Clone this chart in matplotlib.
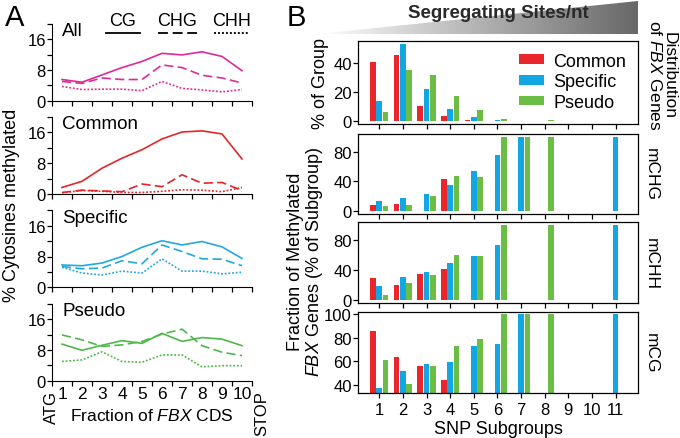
import numpy as np
import matplotlib
matplotlib.use('Agg')
import matplotlib.pyplot as plt
from matplotlib.lines import Line2D
from matplotlib.patches import Polygon
from matplotlib.colors import LinearSegmentedColormap
from matplotlib.transforms import blended_transform_factory

plt.rcParams['font.family'] = ['Liberation Sans', 'DejaVu Sans']
plt.rcParams['mathtext.fontset'] = 'custom'
plt.rcParams['mathtext.rm'] = 'Liberation Sans'
plt.rcParams['mathtext.it'] = 'Liberation Sans:italic'

# ---- Panel A data: % cytosines methylated along FBX CDS (10 bins)
bins = np.arange(1, 11)
all_cg = [5.5, 4.8, 6.7, 8.6, 10.2, 12.3, 11.9, 12.7, 11.5, 7.8]
all_chg = [5.0, 4.5, 5.9, 5.5, 5.5, 9.3, 8.6, 6.6, 5.9, 4.6]
all_chh = [3.7, 2.9, 3.0, 3.0, 2.6, 5.0, 3.2, 2.8, 2.3, 2.9]
common_cg = [1.7, 3.3, 6.7, 9.3, 11.5, 14.3, 16.1, 16.4, 15.6, 9.1]
common_chg = [0.4, 1.0, 0.8, 0.6, 2.6, 1.9, 5.0, 2.8, 3.0, 0.9]
common_chh = [0.3, 0.9, 0.7, 0.4, 0.4, 0.7, 1.1, 1.0, 0.6, 1.7]
specific_cg = [5.8, 5.6, 6.3, 8.0, 10.4, 12.1, 11.0, 11.9, 10.5, 7.5]
specific_chg = [5.4, 4.8, 5.0, 6.9, 6.1, 11.0, 9.3, 7.4, 7.3, 5.6]
specific_chh = [5.2, 3.7, 3.2, 4.2, 3.7, 7.4, 4.2, 4.2, 3.5, 3.9]
pseudo_cg = [9.5, 7.9, 9.2, 10.4, 9.7, 12.3, 10.2, 11.2, 10.8, 9.1]
pseudo_chg = [11.9, 10.6, 8.9, 9.3, 10.2, 12.1, 13.4, 9.1, 7.4, 6.5]
pseudo_chh = [5.0, 5.4, 7.5, 5.0, 4.8, 6.7, 6.7, 3.6, 3.9, 3.9]

group_names = ['All', 'Common', 'Specific', 'Pseudo']
group_colors = ['#DD2A98', '#E4262B', '#22A8E0', '#4DB848']

# ---- Panel B data: SNP subgroups 1..11
subgroups = np.arange(1, 12)
nan = np.nan
dist_common = [40.5, 45.5, 10.7, 3.4, 0.5, 0, 0, 0, 0, 0, 0]
dist_specific = [13.5, 53.0, 21.7, 8.5, 2.7, 0.9, 0.3, 0, 0, 0, 0.3]
dist_pseudo = [6.2, 35.0, 31.8, 17.1, 7.3, 1.6, 0.3, 0.7, 0, 0, 0]

chg_common = [7.7, 9.1, nan, 43.0, nan, nan, nan, nan, nan, nan, nan]
chg_specific = [13.2, 17.7, 23.6, 35.5, 53.6, 75.5, 100, nan, nan, nan, 100]
chg_pseudo = [7.3, 8.2, 20.5, 47.3, 46.4, 100, 100, 100, nan, nan, nan]

chh_common = [30.2, 20.9, 34.7, 42.2, nan, nan, nan, nan, nan, nan, nan]
chh_specific = [18.7, 31.1, 37.3, 49.8, 59.1, 74.2, nan, nan, nan, nan, 100]
chh_pseudo = [7.6, 23.6, 33.3, 60.9, 59.1, 100, nan, 100, nan, nan, nan]

cg_common = [85.6, 63.4, 56.0, 44.5, nan, nan, nan, nan, nan, nan, nan]
cg_specific = [37.5, 52.1, 57.5, 59.7, 72.7, 74.4, 100, nan, nan, nan, 100]
cg_pseudo = [61.4, 40.8, 56.3, 72.7, 79.2, 100, 100, 100, nan, nan, nan]

bar_colors = ['#E8262B', '#12A7E2', '#6CBD45']
bar_labels = ['Common', 'Specific', 'Pseudo']

W, H = 680, 439
fig = plt.figure(figsize=(W / 100, H / 100), dpi=100)


def frac_box(left, top, right, bottom):
    return [left / W, 1 - bottom / H, (right - left) / W, (bottom - top) / H]


# ================= Panel A =================
a_series = [
    (all_cg, all_chg, all_chh),
    (common_cg, common_chg, common_chh),
    (specific_cg, specific_chg, specific_chh),
    (pseudo_cg, pseudo_chg, pseudo_chh),
]
a_bottoms = [101.7, 195.0, 288.3, 381.7]
for i, (name, col, (cg, chg, chh)) in enumerate(zip(group_names, group_colors, a_series)):
    ax = fig.add_axes(frac_box(52, a_bottoms[i] - 77, 252, a_bottoms[i]))
    ax.plot(bins, cg, color=col, lw=1.2)
    ax.plot(bins, chg, color=col, lw=1.2, dashes=(5.5, 2.6))
    ax.plot(bins, chh, color=col, lw=1.2, dashes=(1.1, 1.1))
    ax.set_xlim(0.5, 10.5)
    ax.set_ylim(0, 20)
    ax.spines['top'].set_visible(False)
    ax.spines['right'].set_visible(False)
    ax.set_yticks([0, 8, 16])
    ax.set_yticks([4, 12, 20], minor=True)
    ax.set_xticks(np.arange(0.5, 11, 1))
    ax.set_xticklabels([])
    ax.tick_params(which='both', direction='out', length=3.5, width=0.9, labelsize=12, pad=1)
    ax.text(0.05, 1.02, name, transform=ax.transAxes, va='top', ha='left', fontsize=13.5)
    if i == 3:
        ax.set_xticks(bins, minor=True)
        ax.set_xticklabels([str(b) for b in bins], minor=True)
        ax.tick_params(axis='x', which='minor', length=0, labelsize=12.5, pad=4)
        tr = blended_transform_factory(ax.transData, ax.transAxes)
        ax.text(0.45, -0.12, 'ATG', transform=tr, rotation=90, ha='center', va='top', fontsize=12)
        ax.text(11.0, -0.12, 'STOP', transform=tr, rotation=90, ha='center', va='top', fontsize=12)
        ax.set_xlabel(r'Fraction of $\it{FBX}$ CDS', fontsize=12.5, labelpad=4)

fig.text(12 / W, 1 - 205 / H, '% Cytosines methylated', rotation=90, ha='center', va='center', fontsize=13)
fig.text(5 / W, 1 - 4 / H, 'A', fontsize=21, va='top', ha='left')

# methylation context key
key = [('CG', (106, 140), '-'), ('CHG', (158, 197), (0, (5.5, 2.6))), ('CHH', (214, 249), (0, (1.1, 1.1)))]
for lab, (x0, x1), ls in key:
    fig.text((x0 + x1) / 2 / W, 1 - 22 / H, lab, ha='center', va='center', fontsize=13)
    fig.add_artist(Line2D([x0 / W, x1 / W], [1 - 34 / H, 1 - 34 / H], color='black', lw=1.3,
                          linestyle=ls))

# ================= Panel B =================
b_boxes = [(42, 125), (135, 215), (223.3, 304.3), (312.7, 394.3)]
b_data = [
    (dist_common, dist_specific, dist_pseudo),
    (chg_common, chg_specific, chg_pseudo),
    (chh_common, chh_specific, chh_pseudo),
    (cg_common, cg_specific, cg_pseudo),
]
b_ylims = [(-2, 55), (-4, 104), (-4, 104), (33, 102)]
b_yticks = [[0, 20, 40], [0, 40, 80], [0, 40, 80], [40, 60, 80, 100]]
b_right = ['Distribution\nof $\\it{FBX}$ Genes', 'mCHG', 'mCHH', 'mCG']
bw = 0.24
offsets = [-0.27, 0, 0.27]
for j, ((top, bottom), vals) in enumerate(zip(b_boxes, b_data)):
    ax = fig.add_axes(frac_box(358, top, 638, bottom))
    for k in range(3):
        ax.bar(subgroups + offsets[k], np.array(vals[k], dtype=float), width=bw,
               color=bar_colors[k], label=bar_labels[k], linewidth=0)
    ax.set_xlim(0.1, 11.95)
    ax.set_ylim(*b_ylims[j])
    ax.set_yticks(b_yticks[j])
    ax.set_xticks(subgroups)
    ax.tick_params(direction='out', length=3.5, width=0.9, labelsize=12, pad=1)
    for s in ax.spines.values():
        s.set_linewidth(0.9)
    if j < 3:
        ax.set_xticklabels([])
    else:
        ax.tick_params(axis='x', pad=3)
        ax.set_xlabel('SNP Subgroups', fontsize=13, labelpad=2)
    if j == 0:
        ax.set_ylabel('% of Group', fontsize=13, labelpad=3)
        ax.legend(loc='upper right', frameon=False, fontsize=13, handlelength=1.4,
                  handleheight=0.45, handletextpad=0.5, labelspacing=0.2,
                  borderaxespad=0.25, bbox_to_anchor=(1.0, 1.0))
    xr = 662 if j == 0 else 651
    ax.text((xr - 358) / 280, 0.5 if j else 0.6, b_right[j], transform=ax.transAxes, rotation=270,
            ha='center', va='center', fontsize=12.5, linespacing=0.9)

fig.text(306 / W, 1 - 262 / H, 'Fraction of Methylated\n$\\it{FBX}$ Genes (% of Subgroup)',
         rotation=90, ha='center', va='center', fontsize=13, linespacing=1.0)
fig.text(287 / W, 1 - 4 / H, 'B', fontsize=21, va='top', ha='left')

# gradient wedge for segregating sites
wax = fig.add_axes(frac_box(317, 2, 638, 35))
wax.set_axis_off()
cmap = LinearSegmentedColormap.from_list('wedge', ['#ffffff', '#686868'])
grad = np.linspace(0, 1, 256).reshape(1, -1)
im = wax.imshow(grad, cmap=cmap, extent=[0, 1, 0, 1], aspect='auto', origin='lower')
tri = Polygon([(0, 0), (1, 0), (1, 1)], closed=True, transform=wax.transData, facecolor='none')
wax.add_patch(tri)
im.set_clip_path(tri)
wax.set_xlim(0, 1)
wax.set_ylim(0, 1)
fig.text(498 / W, 1 - 14 / H, 'Segregating Sites/nt', ha='center', va='center',
         fontsize=13.5, fontweight='bold', color='#2a2a2a', zorder=10)

fig.savefig('out.png', dpi=100)
